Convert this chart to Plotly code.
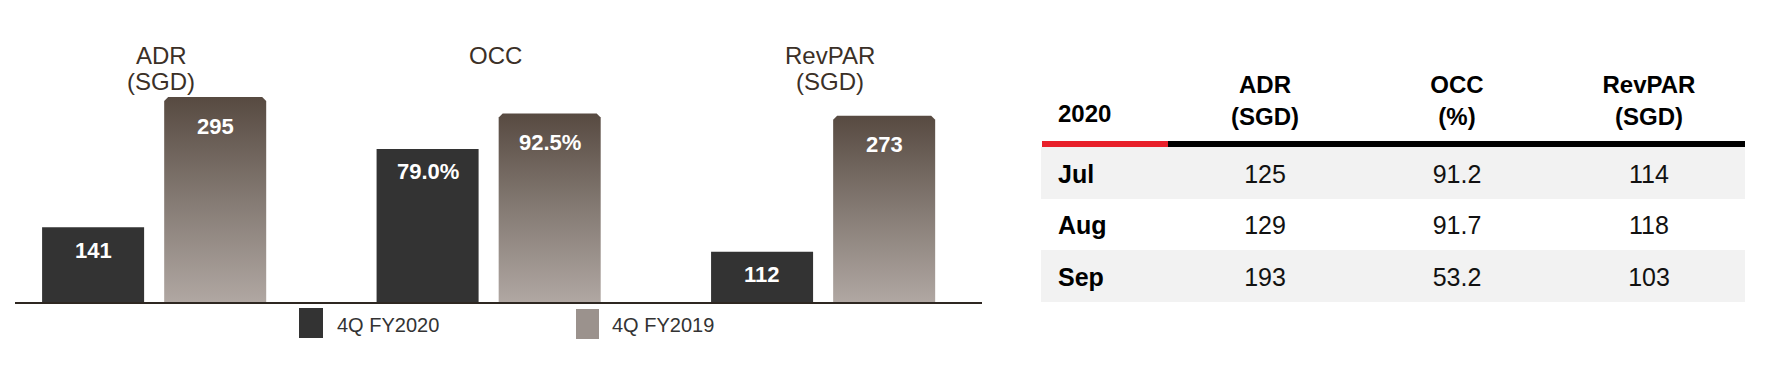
import plotly.graph_objects as go

# ---------------- data ----------------
CAT_LINE1 = ["ADR", "OCC", "RevPAR"]
CAT_LINE2 = ["(SGD)", "", "(SGD)"]
CAT_AXIS = ["y", "y2", "y"]          # SGD metrics share one scale, OCC its own
CAT_UNIT = ["", "%", ""]
SERIES_NAMES = ["4Q FY2020", "4Q FY2019"]
FY2020 = [141, 79.0, 112]
FY2019 = [295, 92.5, 273]

TABLE_YEAR = "2020"
TABLE_HEADERS = ["ADR<br>(SGD)", "OCC<br>(%)", "RevPAR<br>(SGD)"]
MONTHS = ["Jul", "Aug", "Sep"]
ADR_2020 = [125, 129, 193]
OCC_2020 = [91.2, 91.7, 53.2]
REVPAR_2020 = [114, 118, 103]

# ---------------- style / layout constants ----------------
W, H = 1769, 367
FONT = "Liberation Sans, Arial, sans-serif"
DARK = "#333333"
LEGEND_GRAY = "#9b928d"
GRAD = [[0, "#b0a7a2"], [0.5, "#847a73"], [1, "#574a41"]]
CAT_COLOR = "#3b3027"

def fx(p):
    return p / W

def fy(p):
    return 1 - p / H

PLOT_TOP, PLOT_BOT = 60, 302
PLOT_H = PLOT_BOT - PLOT_TOP
X_RANGE = [-0.416, 2.475]
X_PPU = (982 - 15) / (X_RANGE[1] - X_RANGE[0])
Y_RANGE = {"y": [52.5, 52.5 + PLOT_H / 0.845], "y2": [20.8, 20.8 + PLOT_H / 2.63]}
BAR_W = 0.305
DARK_OFF = -0.335
GRAY_OFF = 0.030
CORNER_PX = 4

fig = go.Figure()

# dark bars (4Q FY2020)
for ax in ["y", "y2"]:
    idx = [i for i, a in enumerate(CAT_AXIS) if a == ax]
    fig.add_trace(go.Bar(
        x=idx, y=[FY2020[i] for i in idx], xaxis="x", yaxis=ax,
        offset=DARK_OFF, width=BAR_W, marker=dict(color=DARK, line=dict(width=0)),
        name=SERIES_NAMES[0], showlegend=False, hoverinfo="skip"))

# gradient bars (4Q FY2019)
for i, (v, ax) in enumerate(zip(FY2019, CAT_AXIS)):
    lo = Y_RANGE[ax][0]
    ppu = PLOT_H / (Y_RANGE[ax][1] - Y_RANGE[ax][0])
    base = lo - 2 / ppu
    ry = CORNER_PX / ppu
    rx = CORNER_PX / X_PPU
    x0 = i + GRAY_OFF
    x1 = x0 + BAR_W
    fig.add_trace(go.Scatter(
        x=[x0, x0, x0 + rx, x1 - rx, x1, x1, x0],
        y=[base, v - ry, v, v, v - ry, base, base],
        xaxis="x", yaxis=ax, mode="lines", fill="toself", line=dict(width=0),
        fillgradient=dict(type="vertical", colorscale=GRAD, start=lo, stop=v),
        name=SERIES_NAMES[1], showlegend=False, hoverinfo="skip"))

annotations = []
# value labels inside bars
for i in range(len(CAT_LINE1)):
    for vals, off, shift in [(FY2020, DARK_OFF, -23), (FY2019, GRAY_OFF, -29)]:
        v = vals[i]
        txt = f"{v:.1f}{CAT_UNIT[i]}" if CAT_UNIT[i] else f"{v:.0f}"
        annotations.append(dict(
            x=i + off + BAR_W / 2, y=v, xref="x", yref=CAT_AXIS[i], text=txt,
            showarrow=False, yanchor="middle", yshift=shift,
            font=dict(family=FONT, size=22, color="white", weight="bold")))

# category labels
for i in range(len(CAT_LINE1)):
    annotations.append(dict(x=i, y=fy(55), xref="x", yref="paper", text=CAT_LINE1[i],
                            showarrow=False, yanchor="middle", xshift=7,
                            font=dict(family=FONT, size=24, color=CAT_COLOR)))
    if CAT_LINE2[i]:
        annotations.append(dict(x=i, y=fy(81), xref="x", yref="paper", text=CAT_LINE2[i],
                                showarrow=False, yanchor="middle", xshift=7,
                                font=dict(family=FONT, size=24, color=CAT_COLOR)))

# legend (manual swatches)
shapes = [
    dict(type="rect", xref="paper", yref="paper", x0=fx(299), x1=fx(323), y0=fy(338), y1=fy(308),
         fillcolor=DARK, line=dict(width=0)),
    dict(type="rect", xref="paper", yref="paper", x0=fx(576), x1=fx(599), y0=fy(339), y1=fy(309),
         fillcolor=LEGEND_GRAY, line=dict(width=0)),
]
for name, xp in zip(SERIES_NAMES, [335, 610]):
    annotations.append(dict(x=fx(xp), y=fy(325), xref="paper", yref="paper", text=name,
                            showarrow=False, xanchor="left", yanchor="middle",
                            font=dict(family=FONT, size=20, color="#333333")))

# ---------------- table ----------------
ROW_PX = (302 - 147) / 3
TBL_W = 1745 - 1041
COL_X = [17, 224, 416, 608]
Y3_TOP = 2.5 - PLOT_H / ROW_PX
TEXT_DROP = 3.5 / ROW_PX

fig.add_trace(go.Heatmap(
    x=[0, TBL_W], y=[r - 0.5 for r in range(len(MONTHS) + 1)],
    z=[[1 if r % 2 == 0 else 0] for r in range(len(MONTHS))],
    zmin=0, zmax=1, colorscale=[[0, "#ffffff"], [1, "#f2f2f2"]], showscale=False,
    xaxis="x3", yaxis="y3", hoverinfo="skip"))

rows = [r + TEXT_DROP for r in range(len(MONTHS))]
fig.add_trace(go.Scatter(
    x=[COL_X[0]] * len(MONTHS), y=rows, text=MONTHS, mode="text", textposition="middle right",
    textfont=dict(family=FONT, size=25, color="#000000", weight="bold"),
    xaxis="x3", yaxis="y3", showlegend=False, hoverinfo="skip", cliponaxis=False))
value_cols = [[f"{v:.0f}" for v in ADR_2020], [f"{v:.1f}" for v in OCC_2020],
              [f"{v:.0f}" for v in REVPAR_2020]]
for c, col in enumerate(value_cols):
    fig.add_trace(go.Scatter(
        x=[COL_X[c + 1]] * len(col), y=rows, text=col, mode="text", textposition="middle center",
        textfont=dict(family=FONT, size=25, color="#111111"),
        xaxis="x3", yaxis="y3", showlegend=False, hoverinfo="skip", cliponaxis=False))
hdr_single = -0.5 - (147 - 116) / ROW_PX
hdr_double = -0.5 - (147 - 103) / ROW_PX
fig.add_trace(go.Scatter(
    x=[COL_X[0]], y=[hdr_single], text=[TABLE_YEAR], mode="text", textposition="middle right",
    textfont=dict(family=FONT, size=24, color="#000000", weight="bold"),
    xaxis="x3", yaxis="y3", showlegend=False, hoverinfo="skip", cliponaxis=False))
fig.add_trace(go.Scatter(
    x=COL_X[1:], y=[hdr_double] * len(TABLE_HEADERS), text=TABLE_HEADERS, mode="text",
    textposition="middle center",
    textfont=dict(family=FONT, size=24, color="#000000", weight="bold"),
    xaxis="x3", yaxis="y3", showlegend=False, hoverinfo="skip", cliponaxis=False))

line_top = -0.5 - 6 / ROW_PX
shapes += [
    dict(type="rect", xref="x3", yref="y3", x0=1, x1=127, y0=-0.5, y1=line_top,
         fillcolor="#e8202a", line=dict(width=0)),
    dict(type="rect", xref="x3", yref="y3", x0=127, x1=TBL_W, y0=-0.5, y1=line_top,
         fillcolor="#000000", line=dict(width=0)),
]

fig.update_layout(
    width=W, height=H, margin=dict(l=0, r=0, t=0, b=0),
    paper_bgcolor="white", plot_bgcolor="rgba(0,0,0,0)",
    barmode="overlay", showlegend=False,
    xaxis=dict(domain=[fx(15), fx(982)], range=X_RANGE, anchor="y", showline=True,
               linecolor="#2e2721", linewidth=2, showticklabels=False, ticks="",
               showgrid=False, zeroline=False, fixedrange=True),
    yaxis=dict(domain=[fy(PLOT_BOT), fy(PLOT_TOP)], range=Y_RANGE["y"], visible=False,
               fixedrange=True),
    yaxis2=dict(overlaying="y", range=Y_RANGE["y2"], visible=False, fixedrange=True),
    xaxis3=dict(domain=[fx(1041), fx(1745)], range=[0, TBL_W], anchor="y3", visible=False,
                fixedrange=True),
    yaxis3=dict(domain=[fy(PLOT_BOT), fy(PLOT_TOP)], range=[2.5, Y3_TOP], anchor="x3",
                visible=False, fixedrange=True),
    annotations=annotations, shapes=shapes,
)

fig.write_html("out.html")
